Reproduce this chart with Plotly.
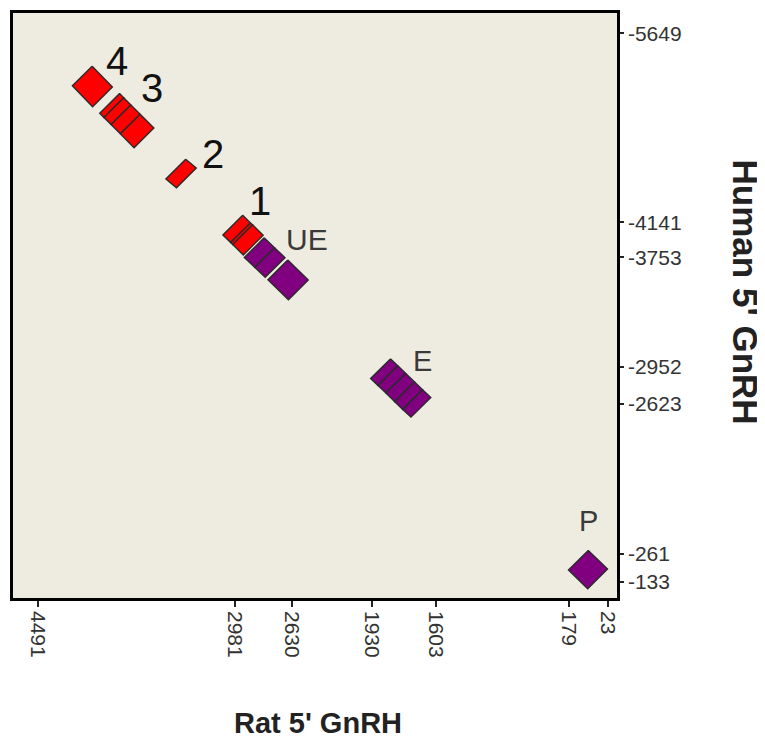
import numpy as np
import plotly.graph_objects as go

# ---------------- data ----------------
rat_ticks = [4491, 2981, 2630, 1930, 1603, 179, 23]
human_ticks = [-5649, -4141, -3753, -2952, -2623, -261, -133]

seg_region = ["4", "3", "3", "3", "3", "2", "1", "1", "1",
              "UE", "UE", "UE", "E", "E", "E", "E", "E", "P"]
seg_rat_start = [4148, 3938, 3906, 3851, 3780, 3431, 2994, 2944, 2931,
                 2860, 2796, 2715, 1885, 1847, 1806, 1761, 1720, 140]
seg_rat_end = [3993, 3906, 3851, 3780, 3675, 3350, 2944, 2931, 2866,
               2796, 2732, 2572, 1847, 1806, 1761, 1720, 1678, 64]
seg_hum_start = [-5309, -5090, -5057, -5000, -4926, -4566, -4110, -4026, -4004,
                 -3860, -3751, -3660, -2934, -2873, -2806, -2730, -2662, -231]
seg_hum_end = [-5143, -5057, -5000, -4926, -4816, -4496, -4026, -4004, -3888,
               -3751, -3678, -3514, -2873, -2806, -2730, -2662, -2571, -145]

region_labels = ["4", "3", "2", "1", "UE", "E", "P"]

# ---------------- layout / style ----------------
W, H = 765, 745
OFF = 8                                     # page body margin of the html
PL, PR, PT, PB = 13, 617, 10, 598          # plot area edges (px in window)
rat_tick_pos = [37.5, 234.5, 291.7, 371.7, 435.5, 568.5, 608]
hum_tick_pos = [30.5, 220.5, 255.5, 365.5, 403, 553.5, 581.5]
BAND = 28
FONT = "Liberation Sans, Arial, sans-serif"
region_color = {"4": "#FF0000", "3": "#FF0000", "2": "#FF0000", "1": "#FF0000",
                "UE": "#800080", "E": "#800080", "P": "#800080"}
label_style = {"4": (35, 15, 40, "#111"), "3": (42, 15, 40, "#111"),
               "2": (37, 15, 40, "#111"), "1": (27, 24, 40, "#111"),
               "UE": (53, 8, 30, "#3a3a3a"), "E": (42, 8, 29, "#3a3a3a"),
               "P": (10, 39, 29, "#3a3a3a")}


def rx(v):
    return float(np.interp(v, rat_ticks[::-1], rat_tick_pos[::-1]))


def hy(v):
    return float(np.interp(v, human_ticks, hum_tick_pos))


nx, ny = BAND / 2 / np.sqrt(2), -BAND / 2 / np.sqrt(2)

fig = go.Figure()
for reg, rs, re_, hs, he in zip(seg_region, seg_rat_start, seg_rat_end,
                                seg_hum_start, seg_hum_end):
    col = region_color[reg]
    x0, y0, x1, y1 = rx(rs), hy(hs), rx(re_), hy(he)
    xs = [x0 + nx, x1 + nx, x1 - nx, x0 - nx, x0 + nx]
    ys = [y0 + ny, y1 + ny, y1 - ny, y0 - ny, y0 + ny]
    fig.add_trace(go.Scatter(x=xs, y=ys, mode="lines", fill="toself",
                             fillcolor=col,
                             line=dict(color="#2a2a2a", width=1.4),
                             hoverinfo="skip", showlegend=False))

annotations = []
for lab in region_labels:
    i = seg_region.index(lab)
    dx, dy, fs, fc = label_style[lab]
    annotations.append(dict(x=rx(seg_rat_start[i]), y=hy(seg_hum_start[i]),
                            xref="x", yref="y", text=lab, showarrow=False,
                            xshift=dx, yshift=dy,
                            font=dict(family=FONT, size=fs, color=fc)))

annotations.append(dict(text="<b>Rat 5' GnRH</b>", xref="paper", yref="paper",
                        x=(318 - PL) / (PR - PL), y=-(724 - PB) / (PB - PT),
                        showarrow=False, xanchor="center", yanchor="middle",
                        font=dict(family=FONT, size=29, color="#222")))
annotations.append(dict(text="<b>Human 5' GnRH</b>", xref="paper", yref="paper",
                        x=(745 - PL) / (PR - PL), y=(PB - 290) / (PB - PT),
                        showarrow=False, xanchor="center", yanchor="middle",
                        textangle=90,
                        font=dict(family=FONT, size=35, color="#222")))

fig.update_layout(
    width=W - OFF, height=H - OFF,
    margin=dict(l=PL - OFF, r=W - PR, t=PT - OFF, b=H - PB, pad=0),
    paper_bgcolor="white", plot_bgcolor="#EEECE1",
    annotations=annotations,
    xaxis=dict(range=[PL, PR], tickmode="array",
               tickvals=[rx(v) for v in rat_ticks],
               ticktext=[str(v) for v in rat_ticks],
               tickangle=90, ticks="outside", ticklen=6, tickwidth=1.5,
               tickcolor="#222", showline=True, mirror=True,
               linecolor="black", linewidth=2.5, showgrid=False, zeroline=False,
               tickfont=dict(family=FONT, size=21, color="#333")),
    yaxis=dict(range=[PB, PT], side="right", tickmode="array",
               tickvals=[hy(v) for v in human_ticks],
               ticktext=[str(v) for v in human_ticks],
               ticks="outside", ticklen=4, tickwidth=1.5, tickcolor="#222",
               showline=True, mirror=True, linecolor="black", linewidth=2.5,
               showgrid=False, zeroline=False,
               tickfont=dict(family=FONT, size=21, color="#333")),
)

fig.write_html("out.html")
